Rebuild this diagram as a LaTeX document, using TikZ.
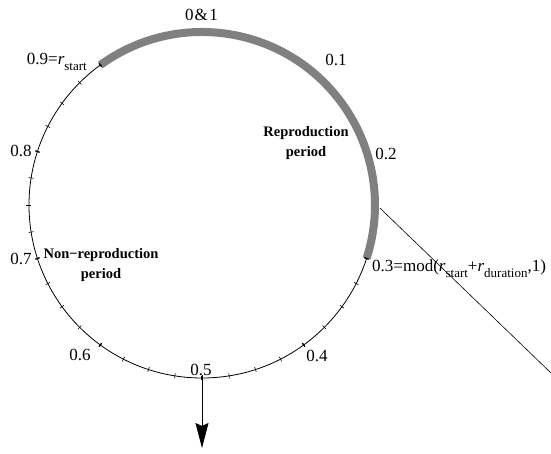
\documentclass[tikz,border=0pt]{standalone}
\usepackage{fontspec}
\setmainfont{Liberation Serif}
\usetikzlibrary{arrows.meta}
\newcommand{\rsub}[1]{\textit{r}\raisebox{-0.3em}{\fontsize{13}{13}\selectfont #1}}

\begin{document}
\begin{tikzpicture}[x=1pt, y=1pt,
	num/.style={font=\fontsize{17}{20}\selectfont, inner sep=0pt},
	period/.style={font=\fontsize{14.5}{20}\selectfont\bfseries, align=center, inner sep=0pt},
	tick/.style={line width=0.6pt},
	major tick/.style={line width=1.3pt}]
	% Paths, nodes and wires:
	\useasboundingbox (-202, -249) rectangle (349, 205);
	\coordinate (c) at (0, 0);
	\draw[line width=0.8pt] (c) circle (173);
	\draw[line width=8pt, color=gray] (126:173) arc (126:-18:173);
	\foreach \a in {-18, -27, ..., -234} {
		\draw[tick] (\a:170.5) -- (\a:175.5);
	}
	\foreach \a in {-18, -54, ..., -234} {
		\draw[major tick] (\a:171) -- (\a:175);
	}
	\coordinate (bottom) at (270:173);
	\coordinate (tip) at (0, -243);
	\draw[line width=0.8pt, -{Stealth[length=25pt, width=13pt, inset=3pt]}] (bottom) -- (tip);
	\coordinate (quarter) at (-1:178);
	\coordinate (far) at (349, -168);
	\draw[line width=0.6pt] (quarter) -- (far);
	\node[num] (l0) at (-0.5, 190) {0\kern1pt\&\kern1.5pt1};
	\node[num] (l1) at (134, 145) {0.1};
	\node[num] (l2) at (184, 51) {0.2};
	\node[num, anchor=base west] (l3) at (170, -67) {0.3=mod(\rsub{start}+\rsub{duration},1)};
	\node[num] (l4) at (115, -151) {0.4};
	\node[num] (l5) at (-1, -165) {0.5};
	\node[num] (l6) at (-122, -150) {0.6};
	\node[num] (l7) at (-181, -54) {0.7};
	\node[num] (l8) at (-181, 54) {0.8};
	\node[num, anchor=base east] (l9) at (-115, 140) {0.9=\rsub{start}};
	\node[period] (repro) at (104, 62) {Reproduction\\period};
	\node[period] (nonrepro) at (-101, -60) {Non−reproduction\\period};
\end{tikzpicture}
\end{document}
